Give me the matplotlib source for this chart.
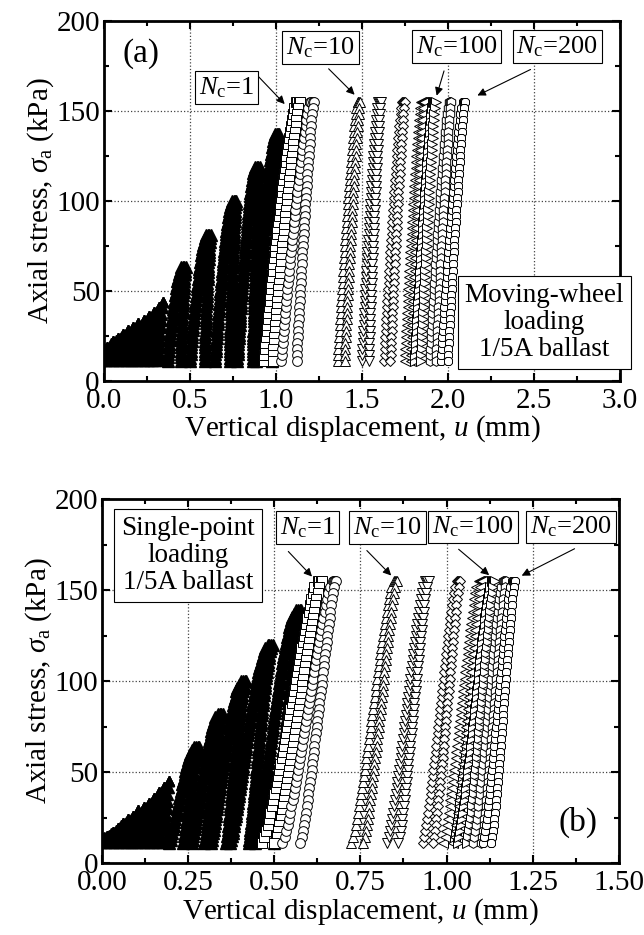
import numpy as np
import matplotlib
matplotlib.use("Agg")
import matplotlib.pyplot as plt
from matplotlib.ticker import MultipleLocator

plt.rcParams["font.family"] = ["Liberation Serif", "DejaVu Serif"]
plt.rcParams["mathtext.fontset"] = "custom"
plt.rcParams["mathtext.rm"] = "Liberation Serif"
plt.rcParams["mathtext.it"] = "Liberation Serif:italic"

# ---- panel (a): moving-wheel loading ----
# small early cycles (peak u, peak stress)
a_small_peak_u = [0.02, 0.05, 0.08, 0.11, 0.14, 0.17, 0.20, 0.23, 0.26, 0.29, 0.32, 0.345]
a_small_peak_s = [19, 22, 24, 26, 28, 30, 32, 34, 36, 38, 41, 44]
# staged black cycles: loading start u, unloading end u, u at peak
# (start / end of the rounded top), peak stress
a_stage_start = [0.37, 0.50, 0.645, 0.775, 0.885]
a_stage_end = [0.445, 0.585, 0.73, 0.865, 0.975]
a_stage_peak_u = [0.45, 0.595, 0.745, 0.88, 0.995]
a_stage_top_u = [0.475, 0.62, 0.77, 0.905, 1.02]
a_stage_peak_s = [63, 81, 100, 119, 137]
# hollow cycles at 155 kPa
a_cyc_start = [0.93, 1.03, 1.36, 1.50, 1.63, 1.75, 1.81, 1.895, 1.96]
a_cyc_end = [0.98, 1.12, 1.40, 1.54, 1.665, 1.785, 1.845, 1.93, 2.0]
a_cyc_peak_u = [1.115, 1.20, 1.475, 1.595, 1.735, 1.845, 1.915, 2.005, 2.085]
a_cyc_top_u = [1.14, 1.22, 1.49, 1.61, 1.75, 1.86, 1.93, 2.02, 2.10]

# ---- panel (b): single-point loading ----
b_small_peak_u = [0.015, 0.03, 0.045, 0.06, 0.075, 0.09, 0.105, 0.12, 0.135, 0.15, 0.165, 0.18, 0.195]
b_small_peak_s = [15, 17, 19, 22, 24, 26, 29, 31, 33, 36, 39, 42, 45]
b_stage_start = [0.195, 0.26, 0.315, 0.372, 0.445]
b_stage_end = [0.235, 0.297, 0.36, 0.425, 0.50]
b_stage_peak_u = [0.268, 0.336, 0.404, 0.481, 0.564]
b_stage_top_u = [0.282, 0.35, 0.418, 0.495, 0.578]
b_stage_peak_s = [64, 82, 100, 120, 139]
b_cyc_start = [0.463, 0.523, 0.724, 0.827, 0.931, 0.990, 1.033, 1.077, 1.106]
b_cyc_end = [0.50, 0.575, 0.758, 0.86, 0.96, 1.02, 1.06, 1.10, 1.13]
b_cyc_peak_u = [0.626, 0.67, 0.846, 0.938, 1.03, 1.093, 1.131, 1.163, 1.189]
b_cyc_top_u = [0.638, 0.68, 0.856, 0.948, 1.04, 1.103, 1.141, 1.173, 1.199]

PEAK_S = 155
MIN_S = 11
markers = ["s", "o", "^", "v", "D", "<", ">", "h", "8"]
msizes = [6.5, 7, 7, 7, 5.5, 7, 7, 7, 7]


def loop(u0, u1, up, ut, sp, smin, n, m=1.0, w=0.25):
    """loading from (u0, smin) to (up, sp), rounded top to (ut, sp),
    unloading back down to (u1, smin)"""
    t = np.linspace(0, 1, n)
    s = smin + (sp - smin) * t
    f = (1 - w) * t ** m + w * (1 - np.sqrt(1 - t))
    load = u0 + (up - u0) * f
    unload = u1 + (ut - u1) * f
    top = np.linspace(up, ut, 4)[1:-1]
    u = np.concatenate([load, top, unload[::-1]])
    s = np.concatenate([s, np.full(top.size, sp), s[::-1]])
    return u, s


def draw_panel(ax, small_u, small_s, st_a, st_b, st_p, st_t, st_s,
               cy_a, cy_b, cy_p, cy_t, dx_small, m):
    for up, sp in zip(small_u, small_s):
        u, s = loop(up - dx_small, up - dx_small / 3, up, up, sp, MIN_S, 10, 1.0, 0.3)
        ax.plot(u, s, ls="none", marker="^", ms=7, color="black")
    for a, b, p, tp, sp in zip(st_a, st_b, st_p, st_t, st_s):
        n = int((sp - MIN_S) / 1.8)
        u, s = loop(a, b, p, tp, sp, MIN_S, n, m, 0.55)
        ax.plot(u, s, ls="none", marker="^", ms=8.5, color="black")
    for a, b, p, tp, mk, ms in zip(cy_a, cy_b, cy_p, cy_t, markers, msizes):
        u, s = loop(a, b, p, tp, PEAK_S, MIN_S, 44, m, 0.3)
        ax.plot(u, s, ls="none", marker=mk, ms=ms, mfc="white",
                mec="black", mew=0.7)


def style_axes(ax, xmax, xmajor, xminor, xfmt):
    ax.set_xlim(0, xmax)
    ax.set_ylim(0, 200)
    ax.xaxis.set_major_locator(MultipleLocator(xmajor))
    ax.xaxis.set_minor_locator(MultipleLocator(xminor))
    ax.yaxis.set_major_locator(MultipleLocator(50))
    ax.yaxis.set_minor_locator(MultipleLocator(25))
    ax.xaxis.set_major_formatter(plt.FormatStrFormatter(xfmt))
    ax.tick_params(which="both", direction="in", top=True, right=True,
                   labelsize=21, width=1.5)
    ax.tick_params(axis="x", pad=5)
    ax.tick_params(axis="y", pad=3)
    ax.tick_params(which="major", length=6)
    ax.tick_params(which="minor", length=3.5)
    for sp in ax.spines.values():
        sp.set_linewidth(2)
    ax.grid(True, which="major", ls=":", lw=0.9, color="#444444")
    ax.set_axisbelow(True)
    ax.set_xlabel("Vertical displacement, $u$ (mm)", fontsize=21, labelpad=0)
    ax.set_ylabel(r"Axial stress, $\sigma_{\rm a}$ (kPa)", fontsize=21, labelpad=0)


def nc_label(ax, text, xy_text, xy_from, xy_to):
    ax.text(*xy_text, text, fontsize=19, ha="center", va="center",
            bbox=dict(boxstyle="square,pad=0.15", fc="white", ec="black", lw=0.8),
            zorder=5)
    ax.annotate("", xy=xy_to, xytext=xy_from,
                arrowprops=dict(arrowstyle="-|>", color="black", lw=0.8,
                                mutation_scale=12), zorder=5)


fig = plt.figure(figsize=(6.44, 9.35), dpi=100)
ax1 = fig.add_axes([0.1615, 0.5928, 0.801, 0.385])
ax2 = fig.add_axes([0.1587, 0.077, 0.802, 0.389])

draw_panel(ax1, a_small_peak_u, a_small_peak_s, a_stage_start, a_stage_end,
           a_stage_peak_u, a_stage_top_u, a_stage_peak_s, a_cyc_start,
           a_cyc_end, a_cyc_peak_u, a_cyc_top_u, 0.06, 1.1)
draw_panel(ax2, b_small_peak_u, b_small_peak_s, b_stage_start, b_stage_end,
           b_stage_peak_u, b_stage_top_u, b_stage_peak_s, b_cyc_start,
           b_cyc_end, b_cyc_peak_u, b_cyc_top_u, 0.03, 0.75)

style_axes(ax1, 3.0, 0.5, 0.25, "%.1f")
style_axes(ax2, 1.5, 0.25, 0.125, "%.2f")

nc = r"$N_{\rm c}$="
ax1.text(0.217, 182, "(a)", fontsize=24, ha="center", va="center")
nc_label(ax1, nc + "1", (0.712, 163), (0.888, 170), (1.062, 152.6))
nc_label(ax1, nc + "10", (1.26, 185), (1.295, 174.4), (1.469, 157.8))
nc_label(ax1, nc + "100", (2.05, 185.6), (1.982, 173.6), (1.93, 156.9))
nc_label(ax1, nc + "200", (2.637, 185.6), (2.495, 173.6), (2.157, 157.8))
ax1.text(2.56, 32.3, "Moving-wheel\nloading\n1/5A ballast", fontsize=19.5,
         ha="center", va="center", linespacing=1.12,
         bbox=dict(boxstyle="square,pad=0.25", fc="white", ec="black", lw=0.8),
         zorder=5)

ax2.text(1.383, 22.5, "(b)", fontsize=24, ha="center", va="center")
nc_label(ax2, nc + "1", (0.597, 184.6), (0.535, 172.4), (0.615, 156.4))
nc_label(ax2, nc + "10", (0.828, 184.6), (0.763, 172.9), (0.845, 157))
nc_label(ax2, nc + "100", (1.077, 184.8), (1.029, 173.5), (1.13, 157.3))
nc_label(ax2, nc + "200", (1.361, 184.8), (1.379, 173.5), (1.211, 157.3))
ax2.text(0.249, 169, "Single-point\nloading\n1/5A ballast", fontsize=19.5,
         ha="center", va="center", linespacing=1.12,
         bbox=dict(boxstyle="square,pad=0.25", fc="white", ec="black", lw=0.8),
         zorder=5)

fig.savefig("out.png", dpi=100)
